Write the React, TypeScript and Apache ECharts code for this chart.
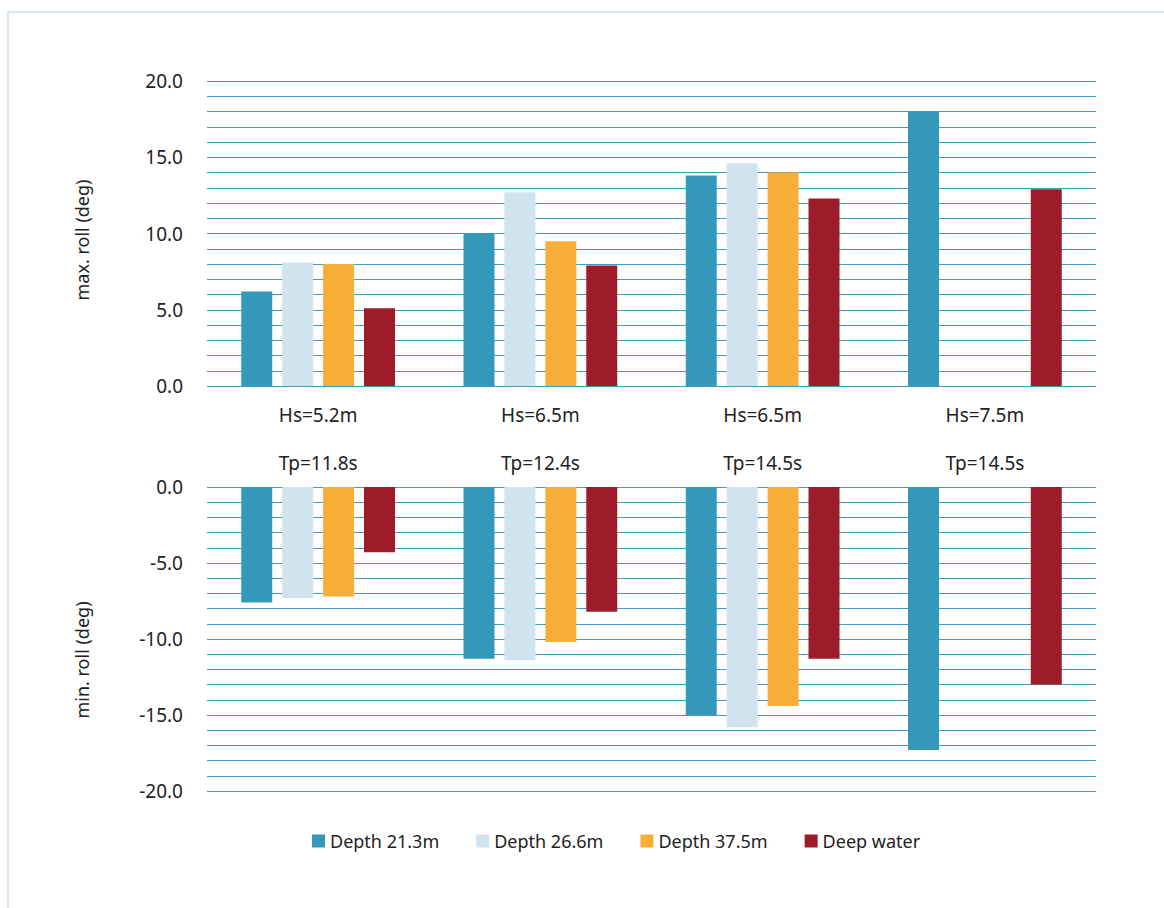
import React, { useEffect, useRef } from "react";
import * as echarts from "echarts";

const hsLabels = ["Hs=5.2m", "Hs=6.5m", "Hs=6.5m", "Hs=7.5m"];
const tpLabels = ["Tp=11.8s", "Tp=12.4s", "Tp=14.5s", "Tp=14.5s"];
const seriesNames = ["Depth 21.3m", "Depth 26.6m", "Depth 37.5m", "Deep water"];
const seriesColors = ["#3498ba", "#d0e3ee", "#f9ae38", "#9e1b2a"];

const maxDepth213 = [6.2, 10.0, 13.8, 18.0];
const maxDepth266 = [8.1, 12.7, 14.6, null];
const maxDepth375 = [8.0, 9.5, 14.0, null];
const maxDeep = [5.1, 7.9, 12.3, 12.9];

const minDepth213 = [-7.6, -11.3, -15.0, -17.3];
const minDepth266 = [-7.3, -11.4, -15.8, null];
const minDepth375 = [-7.2, -10.2, -14.4, null];
const minDeep = [-4.3, -8.2, -11.3, -13.0];

const FONT = "Noto Sans";
const GRID_COLOR = "#3d9dc2";

export default function App() {
  const ref = useRef<HTMLDivElement>(null);

  useEffect(() => {
    if (!ref.current) return;
    const chart = echarts.init(ref.current, undefined, { renderer: "svg" });
    const categories = hsLabels.map((h, i) => h + "\n" + tpLabels[i]);
    const maxData = [maxDepth213, maxDepth266, maxDepth375, maxDeep];
    const minData = [minDepth213, minDepth266, minDepth375, minDeep];

    const fmt = (v: number) => (Math.round(v) % 5 === 0 ? v.toFixed(1) : "");

    const yCommon = {
      type: "value",
      interval: 1,
      axisLine: { show: false },
      axisTick: { show: false },
      axisLabel: {
        formatter: fmt,
        fontFamily: FONT,
        fontSize: 19,
        color: "#222",
        margin: 24,
      },
      splitLine: { show: true, lineStyle: { color: GRID_COLOR, width: 1 } },
    };

    const series: any[] = [];
    seriesNames.forEach((name, i) => {
      series.push({
        name,
        type: "bar",
        xAxisIndex: 0,
        yAxisIndex: 0,
        data: maxData[i],
        barWidth: 31,
        barGap: "32%",
        itemStyle: { color: seriesColors[i] },
      });
    });
    seriesNames.forEach((name, i) => {
      series.push({
        name,
        type: "bar",
        xAxisIndex: 1,
        yAxisIndex: 1,
        data: minData[i],
        barWidth: 31,
        barGap: "32%",
        itemStyle: { color: seriesColors[i] },
      });
    });

    chart.setOption({
      animation: false,
      backgroundColor: "#ffffff",
      graphic: [
        {
          type: "rect",
          shape: { x: 8, y: 12, width: 1200, height: 1000 },
          style: { fill: "none", stroke: "#d4e7f2", lineWidth: 2 },
          z: -1,
        },
        {
          type: "text",
          x: 82,
          y: 240,
          rotation: Math.PI / 2,
          style: {
            text: "max. roll (deg)",
            fontFamily: FONT,
            fontSize: 18,
            fill: "#222",
            align: "center",
            verticalAlign: "middle",
          },
        },
        {
          type: "text",
          x: 82,
          y: 660,
          rotation: Math.PI / 2,
          style: {
            text: "min. roll (deg)",
            fontFamily: FONT,
            fontSize: 18,
            fill: "#222",
            align: "center",
            verticalAlign: "middle",
          },
        },
      ],
      legend: {
        data: seriesNames,
        left: 307,
        top: 827,
        itemWidth: 13,
        itemHeight: 13,
        itemGap: 37,
        icon: "rect",
        textStyle: { fontFamily: FONT, fontSize: 18, color: "#222", padding: [0, 0, 0, 0] },
      },
      grid: [
        { left: 207, right: 68, top: 81, height: 305 },
        { left: 207, right: 68, top: 487, height: 304 },
      ],
      xAxis: [
        {
          type: "category",
          gridIndex: 0,
          data: categories,
          axisLine: { show: false },
          axisTick: { show: false },
          axisLabel: {
            fontFamily: FONT,
            fontSize: 19,
            color: "#222",
            lineHeight: 48,
            margin: 5,
          },
        },
        {
          type: "category",
          gridIndex: 1,
          position: "top",
          data: categories,
          axisLine: { show: false },
          axisTick: { show: false },
          axisLabel: { show: false },
        },
      ],
      yAxis: [
        { ...yCommon, gridIndex: 0, min: 0, max: 20 },
        { ...yCommon, gridIndex: 1, min: -20, max: 0 },
      ],
      series,
    });

    return () => chart.dispose();
  }, []);

  return (
    <div style={{ position: "fixed", left: 0, top: 0, width: 1164, height: 908, background: "#fff" }}>
      <div ref={ref} style={{ width: 1164, height: 908 }} />
    </div>
  );
}
